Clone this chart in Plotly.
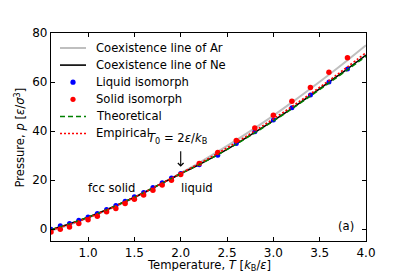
import plotly.graph_objects as go

# ---- data ----
T_iso = [0.6, 0.7, 0.8, 0.9, 1.0, 1.1, 1.2, 1.3, 1.4, 1.5, 1.6, 1.7, 1.8, 1.9, 2.0,
         2.2, 2.4, 2.6, 2.8, 3.0, 3.2, 3.4, 3.6, 3.8]
p_liquid = [0.0, 1.4, 2.3, 3.7, 5.0, 6.4, 8.0, 9.7, 11.4, 13.2, 15.0, 17.0, 18.9, 20.9, 22.7,
            26.3, 30.2, 35.0, 39.7, 44.5, 49.5, 54.7, 60.0, 65.3]
p_solid = [-1.1, 0.0, 0.9, 2.3, 3.9, 5.3, 7.1, 8.4, 10.5, 12.2, 14.0, 15.9, 18.0, 20.0, 22.3,
           26.8, 31.3, 36.2, 41.3, 46.5, 52.2, 57.8, 64.0, 69.9]

T_line = [0.6, 0.8, 1.0, 1.2, 1.4, 1.6, 1.8, 2.0, 2.2, 2.4, 2.6, 2.8, 3.0, 3.2, 3.4, 3.6, 3.8, 4.0]
p_ar = [-0.6, 1.8, 4.6, 7.7, 11.1, 14.8, 18.8, 22.9, 27.1, 31.6, 36.3, 41.2, 46.3, 51.7, 57.3, 63.0, 68.9, 75.0]
p_ne = [-0.2, 2.2, 4.9, 7.9, 11.3, 14.9, 18.8, 22.6, 26.4, 30.4, 34.8, 39.5, 44.3, 49.3, 54.6, 60.0, 65.4, 71.0]
p_theory = [-0.2, 2.2, 4.9, 7.9, 11.3, 14.9, 18.8, 22.6, 26.4, 30.4, 34.7, 39.3, 44.1, 49.1, 54.3, 59.6, 65.0, 70.5]
p_empirical = [-0.4, 2.0, 4.7, 7.8, 11.2, 14.9, 18.8, 22.8, 26.8, 31.0, 35.4, 40.1, 45.0, 50.0, 55.2, 60.6, 66.2, 72.0]

x_ticks = [1.0, 1.5, 2.0, 2.5, 3.0, 3.5, 4.0]
x_ticklabels = ["1.0", "1.5", "2.0", "2.5", "3.0", "3.5", "4.0"]
y_ticks = [0, 20, 40, 60, 80]

legend_labels = ["Coexistence line of Ar", "Coexistence line of Ne", "Liquid isomorph",
                 "Solid isomorph", "Theoretical", "Empirical"]

x_title = "Temperature, <i>T</i> [<i>k</i><sub>B</sub>/<i>ε</i>]"
y_title = "Pressure, <i>p</i> [<i>ε</i>/<i>σ</i><sup>3</sup>]"

FONT = "DejaVu Sans"
FS = 12
FS_TXT = 11.6
# page body has an 8px default margin; figure coords are shifted by it
OFF = 8
W, H = 407 - OFF, 271 - OFF
L, R, T, B = 51 - OFF, 366 - OFF, 33 - OFF, 241 - OFF

fig = go.Figure()
fig.add_trace(go.Scatter(x=T_line, y=p_ar, mode="lines", line=dict(color="#bfbfbf", width=2), line_shape="spline"))
fig.add_trace(go.Scatter(x=T_line, y=p_ne, mode="lines", line=dict(color="black", width=1.6), line_shape="spline"))
fig.add_trace(go.Scatter(x=T_iso, y=p_liquid, mode="markers", marker=dict(color="blue", size=5)))
fig.add_trace(go.Scatter(x=T_iso, y=p_solid, mode="markers", marker=dict(color="red", size=5.5)))
fig.add_trace(go.Scatter(x=T_line, y=p_theory, mode="lines", line=dict(color="green", width=1.5, dash="5px,3px"), line_shape="spline"))
fig.add_trace(go.Scatter(x=T_line, y=p_empirical, mode="lines", line=dict(color="red", width=1.6, dash="2px,2px"), line_shape="spline"))


def px(x):
    # page pixel -> paper fraction
    return (x - OFF - L) / (R - L)


def py(y):
    return (B - (y - OFF)) / (B - T)


shapes = []
annotations = []
styles = [
    ("line", dict(color="#bfbfbf", width=2)),
    ("line", dict(color="black", width=1.6)),
    ("marker", "blue"),
    ("marker", "red"),
    ("line", dict(color="green", width=1.5, dash="5px,3px")),
    ("line", dict(color="red", width=1.6, dash="2px,2px")),
]
for i, (lab, (kind, st)) in enumerate(zip(legend_labels, styles)):
    yy = 48 + 17.1 * i
    if kind == "line":
        shapes.append(dict(type="line", xref="paper", yref="paper", x0=px(60), x1=px(86),
                           y0=py(yy), y1=py(yy), line=st))
    else:
        shapes.append(dict(type="circle", xref="paper", yref="paper", xsizemode="pixel", ysizemode="pixel",
                           xanchor=px(73), yanchor=py(yy), x0=-2.6, x1=2.6, y0=-2.6, y1=2.6,
                           fillcolor=st, line=dict(width=0)))
    annotations.append(dict(text=lab, xref="paper", yref="paper", x=px(94), y=py(yy),
                            xanchor="left", yanchor="middle", showarrow=False,
                            font=dict(family=FONT, size=FS_TXT, color="black")))

annotations += [
    dict(text=x_title, xref="paper", yref="paper", x=px(208.5), y=py(265.5),
         xanchor="center", yanchor="middle", showarrow=False,
         font=dict(family=FONT, size=FS_TXT, color="black")),
    dict(text=y_title, xref="paper", yref="paper", x=px(19), y=py(137.5), textangle=-90,
         xanchor="center", yanchor="middle", showarrow=False,
         font=dict(family=FONT, size=FS_TXT, color="black")),
    dict(text="fcc solid", x=1.256, y=16.9, xref="x", yref="y", showarrow=False,
         font=dict(family=FONT, size=FS_TXT, color="black")),
    dict(text="liquid", x=2.173, y=16.9, xref="x", yref="y", showarrow=False,
         font=dict(family=FONT, size=FS_TXT, color="black")),
    dict(text="<i>T</i><sub>0</sub> = 2<i>ε</i>/<i>k</i><sub>B</sub>", x=1.97, y=37.0, xref="x", yref="y",
         showarrow=False, font=dict(family=FONT, size=FS_TXT, color="black")),
    dict(text="", x=2.0, y=25.5, xref="x", yref="y", showarrow=True, ax=0, ay=-17,
         arrowhead=4, arrowsize=1, arrowwidth=1.1, arrowcolor="black"),
    dict(text="(a)", x=3.78, y=1.3, xref="x", yref="y", showarrow=False,
         font=dict(family=FONT, size=FS_TXT, color="black")),
]

axis_common = dict(showgrid=False, zeroline=False, showline=True, linecolor="black", linewidth=1.2,
                   mirror="ticks", ticks="inside", ticklen=4, tickwidth=1.1, tickcolor="black",
                   automargin=False,
                   tickfont=dict(family=FONT, size=FS, color="black"))

fig.update_layout(
    width=W, height=H,
    margin=dict(l=L, r=W - R, t=T, b=H - B),
    paper_bgcolor="white", plot_bgcolor="white",
    showlegend=False,
    shapes=shapes, annotations=annotations,
    xaxis=dict(range=[0.6, 4.0], tickvals=x_ticks, ticktext=x_ticklabels, **axis_common),
    yaxis=dict(range=[-4.8, 80], tickvals=y_ticks, **axis_common),
)

fig.write_html("out.html")
